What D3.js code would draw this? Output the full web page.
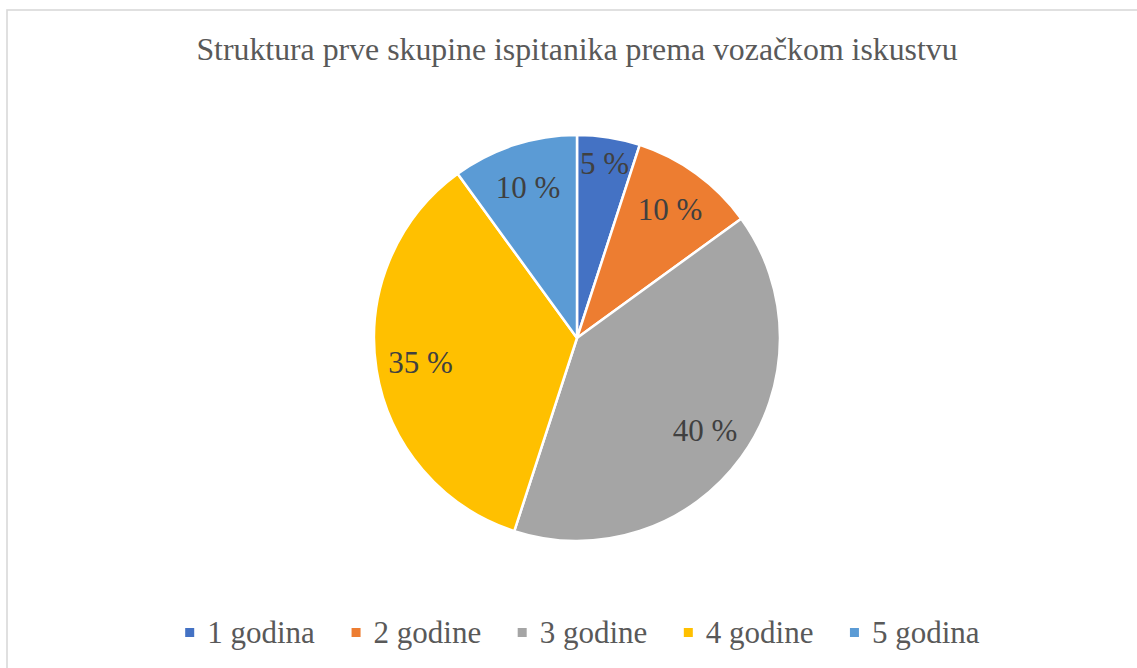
<!DOCTYPE html>
<html>
<head>
<meta charset="utf-8">
<script src="https://cdn.jsdelivr.net/npm/d3@7"></script>
</head>
<body style="margin:0; background:#fff">
<div id="viz"></div>
<script>
// driving experience of the first group of respondents
const title = "Struktura prve skupine ispitanika prema vozačkom iskustvu";
const categories = ["1 godina", "2 godine", "3 godine", "4 godine", "5 godina"];
const shares = [5, 10, 40, 35, 10];
const colors = ["#4472C4", "#ED7D31", "#A5A5A5", "#FFC000", "#5B9BD5"];

const font = "Liberation Serif";

const dimensions = {
    width: 1137,
    height: 668,
    cx: 577,
    cy: 338,
    radius: 203
};

const dataset = categories.map((c, i) => ({ name: c, value: shares[i], color: colors[i] }));

const viz = d3.select('#viz').append('svg')
    .attr('width', dimensions.width)
    .attr('height', dimensions.height)
    .style('display', 'block');

// chart area border, runs off the right and bottom edges
viz.append('rect')
    .attr('x', 7)
    .attr('y', 10)
    .attr('width', dimensions.width + 20)
    .attr('height', dimensions.height + 20)
    .attr('fill', 'none')
    .attr('stroke', '#d9d9d9')
    .attr('stroke-width', 1.6);

viz.append('text')
    .attr('x', dimensions.cx)
    .attr('y', 59.5)
    .attr('text-anchor', 'middle')
    .attr('fill', '#595959')
    .attr('font-family', font)
    .attr('font-size', 31.8)
    .text(title);

const pie = d3.pie()
    .value(d => d.value)
    .sort(null);

const arcs = pie(dataset);
const total = d3.sum(shares);

const arc = d3.arc()
    .innerRadius(0)
    .outerRadius(dimensions.radius);

const bounds = viz.append('g')
    .attr('transform', `translate(${dimensions.cx}, ${dimensions.cy})`);

bounds.selectAll('path')
    .data(arcs)
    .enter()
    .append('path')
        .attr('d', arc)
        .attr('fill', d => d.data.color)
        .attr('stroke', '#fff')
        .attr('stroke-width', 2.5)
        .attr('stroke-linejoin', 'round');

// thin slices push their label further out
function labelArc(d) {
    const r = d.data.value / total < 0.07 ? dimensions.radius * 0.87 : dimensions.radius * 0.78;
    return d3.arc().innerRadius(r).outerRadius(r).centroid(d);
}

bounds.selectAll('text.label')
    .data(arcs)
    .enter()
    .append('text')
        .attr('class', 'label')
        .attr('x', d => labelArc(d)[0])
        .attr('y', d => labelArc(d)[1])
        .attr('dy', '0.33em')
        .attr('text-anchor', 'middle')
        .attr('fill', '#404040')
        .attr('font-family', font)
        .attr('font-size', 31)
        .text(d => `${d.data.value} %`);

// legend
const legend = viz.append('g');
const items = legend.selectAll('g')
    .data(dataset)
    .enter()
    .append('g');

items.append('rect')
    .attr('width', 9)
    .attr('height', 9)
    .attr('y', -15)
    .attr('fill', d => d.color);

items.append('text')
    .attr('x', 22)
    .attr('fill', '#595959')
    .attr('font-family', font)
    .attr('font-size', 31)
    .text(d => d.name);

let offset = 0;
const gap = 36.5;
items.each(function() {
    const w = this.getBBox().width;
    d3.select(this).attr('transform', `translate(${offset}, 0)`);
    offset += w + gap;
});
const legendWidth = offset - gap;
legend.attr('transform', `translate(${582.5 - legendWidth / 2}, 643)`);
</script>
</body>
</html>
